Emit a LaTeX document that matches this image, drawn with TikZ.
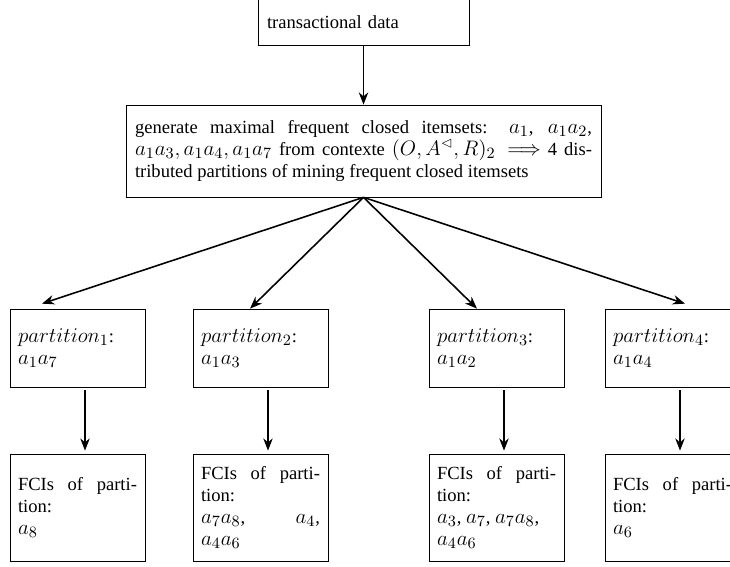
\documentclass[tikz,border=0pt]{standalone}
\usepackage{amssymb}
\usepackage[no-math]{fontspec}
\setmainfont{Liberation Serif}
\DeclareMathSizes{10.6}{12}{8.6}{6.5}
\usetikzlibrary{arrows.meta,calc}
\begin{document}
\begin{tikzpicture}[x=0.5714pt,y=-0.5714pt,
  every node/.style={font=\fontsize{10.6}{12.4}\selectfont},
  box/.style={draw, line width=0.4pt, rectangle, inner xsep=8*0.5714pt, inner ysep=0pt,
    text width=119*0.5714pt, align=justify, minimum width=135*0.5714pt},
  partbox/.style={box, minimum height=78*0.5714pt},
  fcibox/.style={box, minimum height=107*0.5714pt},
  arr/.style={-{Stealth[length=7pt,width=5.4pt]}, line width=0.9pt}]
\useasboundingbox (0,0) rectangle (730,567);

\node[draw, line width=0.4pt, inner xsep=9*0.5714pt, inner ysep=0pt, text width=193*0.5714pt,
  align=left, minimum width=211*0.5714pt, minimum height=46*0.5714pt] (top) at (363.5,22) {transactional data};

\node[draw, line width=0.4pt, inner xsep=9*0.5714pt, inner ysep=0pt, text width=457*0.5714pt,
  align=justify, minimum width=475*0.5714pt, minimum height=92*0.5714pt] (main) at (363.5,151)
  {generate maximal frequent closed itemsets: $a_1$, $a_1a_2$,\linebreak
   $a_1a_3, a_1a_4, a_1a_7$ from contexte $(O, A^{\vartriangleleft}, R)_2 \Longrightarrow$ 4 dis-\linebreak
   tributed partitions of mining frequent closed itemsets};

\node[partbox] (p1) at (77.5,348) {$partition_1$:\\ $a_1a_7$};
\node[partbox] (p2) at (260.5,348) {$partition_2$:\\ $a_1a_3$};
\node[partbox] (p3) at (496.5,348) {$partition_3$:\\ $a_1a_2$};
\node[partbox] (p4) at (672.5,348) {$partition_4$:\\ $a_1a_4$};

\node[fcibox] (f1) at (77.5,507.5) {FCIs of parti-\linebreak tion:\\ $a_8$};
\node[fcibox] (f2) at (260.5,507.5) {FCIs of parti-\linebreak tion:\\ $a_7a_8$,\hfill $a_4$,\\ $a_4a_6$};
\node[fcibox] (f3) at (496.5,507.5) {FCIs of parti-\linebreak tion:\\ $a_3$, $a_7$, $a_7a_8$,\\ $a_4a_6$};
\node[fcibox] (f4) at (672.5,507.5) {FCIs of parti-\linebreak tion:\\ $a_6$};

\draw[arr] (top.south) -- (main.north);
\draw[arr] (main.south) -- ($(p1.north)+(-35.5,-5)$);
\draw[arr] (main.south) -- ($(p2.north)+(-10.5,0)$);
\draw[arr] (main.south) -- ($(p3.north)+(-19.5,0)$);
\draw[arr] (main.south) -- ($(p4.north)+(12.5,-5)$);

\foreach \i in {1,2,3,4}
  \draw[arr] ($(p\i.south)+(7.5,3)$) -- ($(f\i.north)+(7.5,-3)$);
\end{tikzpicture}
\end{document}
